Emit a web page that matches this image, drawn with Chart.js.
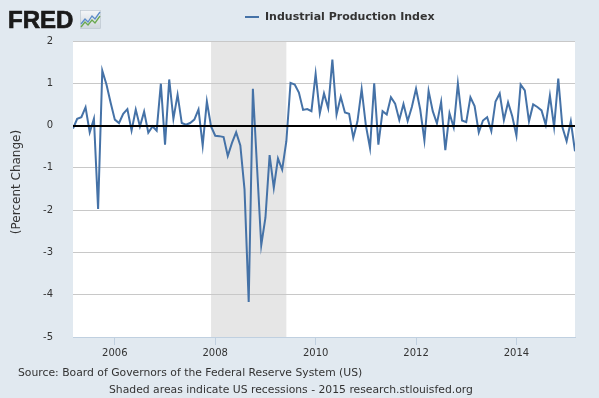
<!DOCTYPE html>
<html><head><meta charset="utf-8">
<script src="https://cdn.jsdelivr.net/npm/chart.js@4/dist/chart.umd.min.js"></script>
<style>
html,body{margin:0;padding:0;background:#e1e9f0;width:599px;height:398px;overflow:hidden;font-family:"DejaVu Sans",Verdana,sans-serif;color:#333}
#c{position:absolute;left:0;top:0}
.t{position:absolute;white-space:nowrap}
</style></head><body>
<canvas id="c" width="599" height="398"></canvas>
<div class="t" style="left:8px;top:6px;font:bold 24px 'Liberation Sans',Arial,sans-serif;color:#1a1a1a;-webkit-text-stroke:0.7px #1a1a1a">FRED</div>
<svg style="position:absolute;left:80px;top:10px" width="21" height="19" viewBox="0 0 21 19">
  <defs><linearGradient id="g" x1="0" y1="0" x2="0" y2="1"><stop offset="0" stop-color="#f4f6f8"/><stop offset="1" stop-color="#cfd6dd"/></linearGradient></defs>
  <rect x="0.5" y="0.5" width="20" height="18" fill="url(#g)" stroke="#b8c2cc" stroke-width="0.6"/>
  <polyline points="1,14 5,9 8,12 12,6 15,9 20,2" fill="none" stroke="#5b8cc8" stroke-width="1.3"/>
  <polyline points="1,17 5,12 8,15 12,10 15,13 20,6" fill="none" stroke="#6aa84f" stroke-width="1.3"/>
</svg>
<div style="position:absolute;left:245px;top:16px;width:14px;height:2px;background:#4572a7"></div>
<div class="t" style="left:265px;top:10px;font:bold 11px 'DejaVu Sans',Verdana,sans-serif;color:#333">Industrial Production Index</div>
<div class="t" style="left:18px;top:366px;font:10.8px 'DejaVu Sans',Verdana,sans-serif;color:#333">Source: Board of Governors of the Federal Reserve System (US)</div>
<div class="t" style="left:109px;top:383px;font:10.8px 'DejaVu Sans',Verdana,sans-serif;color:#333">Shaded areas indicate US recessions - 2015 research.stlouisfed.org</div>
<script>
// ---- data ----
const startYear = 2005, startMonth = 3; // first observation: March 2005 (monthly)
const ipChange = [
 -0.07, 0.16, 0.20, 0.43, -0.16, 0.16, -1.97, 1.30, 0.97, 0.54,
  0.14, 0.06, 0.28, 0.39, -0.12, 0.38, -0.02, 0.33, -0.17, -0.02,
 -0.12, 0.99, -0.45, 1.09, 0.16, 0.73, 0.06, 0.02, 0.06, 0.14,
  0.38, -0.47, 0.57, -0.02, -0.24, -0.25, -0.27, -0.72, -0.41, -0.16,
 -0.47, -1.51, -4.17, 0.87, -0.99, -2.83, -2.18, -0.70, -1.47, -0.78,
 -1.04, -0.37, 1.01, 0.97, 0.78, 0.37, 0.39, 0.34, 1.22, 0.29,
  0.76, 0.41, 1.56, 0.26, 0.68, 0.31, 0.28, -0.29, 0.10, 0.86,
  0.01, -0.53, 1.00, -0.45, 0.34, 0.26, 0.67, 0.52, 0.13, 0.51,
  0.11, 0.44, 0.87, 0.38, -0.35, 0.82, 0.34, 0.05, 0.56, -0.58,
  0.29, -0.04, 0.99, 0.12, 0.08, 0.67, 0.46, -0.16, 0.12, 0.20,
 -0.13, 0.57, 0.76, 0.13, 0.55, 0.22, -0.24, 0.97, 0.83, 0.10,
  0.50, 0.44, 0.36, 0.02, 0.71, -0.03, 1.11, -0.04, -0.37, 0.10,
 -0.61
];
const recessionStart = 2007 + 11/12; // Dec 2007
const recessionEnd = 2009 + 5/12;    // Jun 2009
const xTickYears = [2006, 2008, 2010, 2012, 2014];
const yTickValues = [2, 1, 0, -1, -2, -3, -4, -5];
const yAxisTitle = '(Percent Change)';

const points = ipChange.map((v, i) => ({ x: startYear + (startMonth - 1 + i) / 12, y: v }));

const decor = {
  id: 'decor',
  beforeDraw(chart) {
    const { ctx, chartArea: a, scales: { x } } = chart;
    ctx.save();
    ctx.fillStyle = '#ffffff';
    ctx.fillRect(a.left, a.top, a.right - a.left, a.bottom - a.top);
    const x0 = x.getPixelForValue(recessionStart), x1 = x.getPixelForValue(recessionEnd);
    ctx.fillStyle = '#e6e6e6';
    ctx.fillRect(x0, a.top, x1 - x0, a.bottom - a.top);
    ctx.restore();
  },
  afterDatasetsDraw(chart) {
    const { ctx, chartArea: a, scales: { y } } = chart;
    const yp = Math.round(y.getPixelForValue(0));
    ctx.save();
    ctx.strokeStyle = '#000';
    ctx.lineWidth = 2;
    ctx.beginPath();
    ctx.moveTo(a.left, yp);
    ctx.lineTo(a.right, yp);
    ctx.stroke();
    ctx.restore();
  },
  afterDraw(chart) {
    const { ctx } = chart;
    ctx.save();
    ctx.translate(17, 182);
    ctx.rotate(-Math.PI / 2);
    ctx.fillStyle = '#333';
    ctx.font = "12px 'DejaVu Sans'";
    ctx.textAlign = 'center';
    ctx.textBaseline = 'middle';
    ctx.fillText(yAxisTitle, 0, 0);
    ctx.restore();
  }
};

new Chart(document.getElementById('c'), {
  type: 'line',
  data: { datasets: [{ label: 'Industrial Production Index', data: points,
    borderColor: '#4572a7', borderWidth: 2, pointRadius: 0, tension: 0, fill: false }] },
  options: {
    responsive: false, animation: false, devicePixelRatio: 1,
    layout: { padding: { left: 0, right: 24, top: 41, bottom: 0 } },
    plugins: { legend: { display: false }, tooltip: { enabled: false } },
    scales: {
      x: {
        type: 'linear', min: points[0].x, max: points[points.length - 1].x,
        afterBuildTicks: s => { s.ticks = xTickYears.map(v => ({ value: v })); },
        afterFit: s => { s.height = 61; },
        grid: { drawOnChartArea: false, drawTicks: true, tickLength: 8, color: '#c0d0e0', lineWidth: 1 },
        border: { display: true, color: '#c0d0e0', width: 1 },
        ticks: { color: '#333', font: { family: 'DejaVu Sans', size: 10 }, padding: 2, maxRotation: 0, autoSkip: false, callback: v => String(v) }
      },
      y: {
        min: -5, max: 2,
        afterBuildTicks: s => { s.ticks = yTickValues.map(v => ({ value: v })); },
        afterFit: s => { s.width = 73; },
        grid: { drawTicks: false, color: c => (c.tick && c.tick.value === 0) ? 'rgba(0,0,0,0)' : '#c8c8c8', lineWidth: 1 },
        border: { display: false },
        ticks: { color: '#333', font: { family: 'DejaVu Sans', size: 10 }, padding: 20, callback: v => String(v) }
      }
    }
  },
  plugins: [decor]
});
</script>
</body></html>
